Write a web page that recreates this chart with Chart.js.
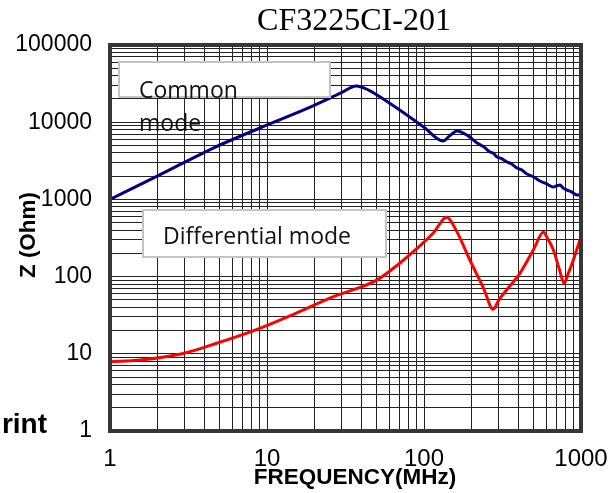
<!DOCTYPE html>
<html>
<head>
<meta charset="utf-8">
<script src="https://cdn.jsdelivr.net/npm/chart.js@4"></script>
<style>
  body { margin: 0; background: #fff; }
  #wrap { width: 614px; height: 493px; }
</style>
</head>
<body>
<div id="wrap"><canvas id="chart"></canvas></div>
<script>
// Common mode impedance curve
const cmFreq = [1, 2, 4.55, 9, 20, 30, 37, 45, 55, 70, 100, 132, 145, 162, 190, 218, 240, 263, 275, 292, 310, 338, 360, 391, 420, 453, 500, 548, 600, 663, 700, 735, 770, 815, 870, 944, 1000];
const cmZ = [1000, 2000, 4630, 8410, 16500, 24300, 29500, 25700, 20000, 14400, 8590, 5710, 6600, 7690, 6700, 5380, 4800, 4110, 4000, 3540, 3400, 3050, 2900, 2550, 2400, 2130, 1950, 1730, 1600, 1450, 1500, 1540, 1400, 1320, 1250, 1140, 1150];

// Differential mode impedance curve
const dmFreq = [1, 1.55, 2.93, 4.78, 9, 15, 26.5, 50, 70, 94, 115, 139.5, 160, 196, 240, 276, 300, 336, 408, 500, 575, 620, 667, 730, 780, 830, 894, 1000];
const dmZ = [7.9, 8.3, 10.1, 13.7, 21.4, 33, 55, 90, 149, 250, 370, 587, 400, 164, 70, 37.7, 50, 67, 110, 226, 375, 298, 221, 122, 82, 110, 164, 329];

const xTickLabels = ['1', '10', '100', '1000'];
const yTickLabels = ['1', '10', '100', '1000', '10000', '100000'];

function gridValues(labels) {
  const out = [];
  labels.forEach((l, i) => {
    const d = Number(l);
    if (i === labels.length - 1) { out.push(d); return; }
    for (let m = 1; m <= 9; m++) out.push(m * d);
  });
  return out;
}

const pts = (xs, ys) => xs.map((x, i) => ({ x: x, y: ys[i] }));

const overlay = {
  id: 'overlay',
  beforeDraw(chart) {
    const c = chart.ctx;
    c.save();
    c.fillStyle = '#fff';
    c.fillRect(0, 0, chart.width, chart.height);
    c.restore();
  },
  afterDatasetsDraw(chart) {
    const c = chart.ctx;
    const a = chart.chartArea;
    c.save();
    // label boxes
    c.fillStyle = '#fff';
    c.strokeStyle = '#c4c4c4';
    c.lineWidth = 2;
    c.fillRect(119, 62, 211, 35);
    c.strokeRect(119, 62, 211, 35);
    c.fillRect(143, 210, 243, 47);
    c.strokeRect(143, 210, 243, 47);
    c.fillStyle = '#111';
    c.font = '23px "Open Sans"';
    c.textAlign = 'left';
    c.textBaseline = 'alphabetic';
    c.fillText('Common', 139, 98);
    c.fillText('mode', 139, 131);
    c.fillText('Differential mode', 163, 244);

    // frame
    c.strokeStyle = '#363636';
    c.lineWidth = 4;
    c.strokeRect(a.left, a.top, a.right - a.left, a.bottom - a.top);

    // titles
    c.fillStyle = '#000';
    c.textAlign = 'center';
    c.textBaseline = 'middle';
    c.font = '32px "Liberation Serif"';
    c.fillText('CF3225CI-201', 354, 22);
    c.font = 'bold 22.5px "Liberation Sans"';
    c.fillText('FREQUENCY(MHz)', 355, 478);
    c.save();
    c.translate(29, 235);
    c.rotate(-Math.PI / 2);
    c.fillText('Z (Ohm)', 0, 0);
    c.restore();
    c.textAlign = 'right';
    c.textBaseline = 'alphabetic';
    c.font = 'bold 28px "Liberation Sans"';
    c.fillText('rint', 47, 433);
    c.restore();
  }
};

Chart.defaults.font.family = '"Liberation Sans", Arial, sans-serif';
Chart.defaults.color = '#000';

new Chart(document.getElementById('chart'), {
  type: 'line',
  data: {
    datasets: [
      {
        label: 'Common mode',
        data: pts(cmFreq, cmZ),
        borderColor: '#000080',
        borderWidth: 3,
        pointRadius: 0,
        cubicInterpolationMode: 'monotone'
      },
      {
        label: 'Differential mode',
        data: pts(dmFreq, dmZ),
        borderColor: '#ff0000',
        borderWidth: 3,
        pointRadius: 0,
        cubicInterpolationMode: 'monotone'
      }
    ]
  },
  options: {
    responsive: true,
    maintainAspectRatio: false,
    animation: false,
    layout: { padding: { left: 0, top: 45, right: 33, bottom: 0 } },
    plugins: { legend: { display: false }, tooltip: { enabled: false } },
    scales: {
      x: {
        type: 'logarithmic',
        min: 1,
        max: 1000,
        afterBuildTicks: s => { s.ticks = gridValues(xTickLabels).map(v => ({ value: v })); },
        afterFit: s => { s.height = 62; s.paddingLeft = 0; s.paddingRight = 0; },
        grid: { color: '#222', lineWidth: 1, drawTicks: false },
        border: { display: false },
        ticks: {
          autoSkip: false,
          maxRotation: 0,
          minRotation: 0,
          padding: 14,
          font: { size: 24 },
          callback: v => xTickLabels.includes(String(v)) ? String(v) : ''
        }
      },
      y: {
        type: 'logarithmic',
        min: 1,
        max: 100000,
        afterBuildTicks: s => { s.ticks = gridValues(yTickLabels).map(v => ({ value: v })); },
        afterFit: s => { s.width = 110; s.paddingTop = 0; s.paddingBottom = 0; },
        grid: { color: '#222', lineWidth: 1, drawTicks: false },
        border: { display: false },
        ticks: {
          autoSkip: false,
          padding: 18,
          font: { size: 23 },
          callback: v => yTickLabels.includes(String(v)) ? String(v) : ''
        }
      }
    }
  },
  plugins: [overlay]
});
</script>
</body>
</html>
